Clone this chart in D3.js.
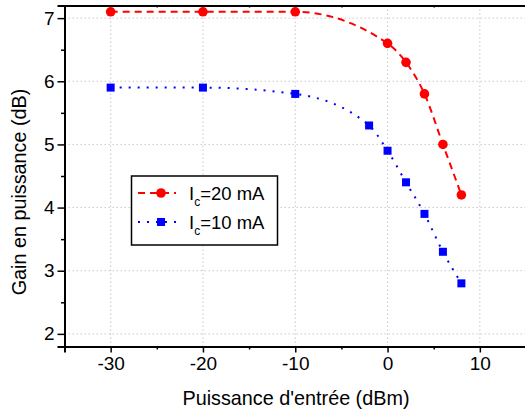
<!DOCTYPE html>
<html><head><meta charset="utf-8">
<script src="https://cdn.jsdelivr.net/npm/d3@7"></script>
<style>body{margin:0;background:#fff}svg{display:block;font-family:"Liberation Sans",Arial,sans-serif}</style>
</head><body>
<script>
const xTicks = [-30, -20, -10, 0, 10];
const yTicks = [2, 3, 4, 5, 6, 7];
const x20 = [-30, -20, -10, 0, 2, 4, 6, 8];
const y20 = [7.1, 7.1, 7.1, 6.6, 6.3, 5.8, 5.0, 4.2];
const x10 = [-30, -20, -10, -2, 0, 2, 4, 6, 8];
const y10 = [5.9, 5.9, 5.8, 5.3, 4.9, 4.4, 3.9, 3.3, 2.8];
const seriesLabels = ["=20 mA", "=10 mA"];
const xTitle = "Puissance d'entrée (dBm)";
const yTitle = "Gain en puissance (dB)";

const W = 525, H = 414;
const svg = d3.select("body").append("svg").attr("width", W).attr("height", H);
const x = d3.scaleLinear().domain([-35, 15]).range([64.5, 526]);
const y = d3.scaleLinear().domain([1.8, 7.2]).range([346.5, 5.5]);

// grid
const g = svg.append("g");
g.selectAll(".gx").data(xTicks).enter().append("line")
  .attr("x1", d => x(d)).attr("x2", d => x(d)).attr("y1", y(7.2)).attr("y2", y(1.8))
  .attr("stroke", "#c8c8c8").attr("stroke-width", 1).attr("stroke-dasharray", "1.5,2.5");
g.selectAll(".gy").data(yTicks).enter().append("line")
  .attr("x1", x(-35)).attr("x2", x(15)).attr("y1", d => y(d)).attr("y2", d => y(d))
  .attr("stroke", "#c8c8c8").attr("stroke-width", 1).attr("stroke-dasharray", "1.5,2.5");

// axes
const fontSize = 19;
const fmt = d => String(d);
const xAx = svg.append("g").attr("transform", `translate(0,${y(1.8)})`)
  .call(d3.axisBottom(x).tickValues(xTicks).tickSize(6).tickPadding(4).tickFormat(fmt));
const xMinor = svg.append("g").attr("transform", `translate(0,${y(1.8)})`)
  .call(d3.axisBottom(x).tickValues([-35,-25,-15,-5,5,15]).tickSize(3).tickFormat(""));
const yAx = svg.append("g").attr("transform", `translate(${x(-35)},0)`)
  .call(d3.axisLeft(y).tickValues(yTicks).tickSize(7).tickPadding(3).tickFormat(fmt));
const yMinor = svg.append("g").attr("transform", `translate(${x(-35)},0)`)
  .call(d3.axisLeft(y).tickValues([2.5,3.5,4.5,5.5,6.5]).tickSize(3.5).tickFormat(""));
const xTop = svg.append("g").attr("transform", `translate(0,${y(7.2)})`)
  .call(d3.axisTop(x).tickValues([-25,-15,-5,5]).tickSize(-2).tickFormat(""));
[xAx, xMinor, yAx, yMinor, xTop].forEach(a => {
  a.select(".domain").attr("stroke", "#000").attr("stroke-width", 2);
  a.selectAll(".tick line").attr("stroke", "#000").attr("stroke-width", 1.5);
  a.selectAll("text").attr("font-size", fontSize).attr("font-family", '"Liberation Sans",Arial,sans-serif').attr("fill", "#000");
});

// titles
svg.append("text").attr("x", 296).attr("y", 405).attr("text-anchor", "middle")
  .attr("font-size", 19.8).text(xTitle);
svg.append("text").attr("transform", "translate(26,192) rotate(-90)").attr("text-anchor", "middle")
  .attr("font-size", 19.8).text(yTitle);

// curves
svg.append("clipPath").attr("id", "c").append("rect")
  .attr("x", x(-35)).attr("y", y(7.2)).attr("width", x(15) - x(-35)).attr("height", y(1.8) - y(7.2));
const line = d3.line().x(d => x(d[0])).y(d => y(d[1])).curve(d3.curveMonotoneX);
const d20 = x20.map((v, i) => [v, y20[i]]);
const d10 = x10.map((v, i) => [v, y10[i]]);
const plot = svg.append("g").attr("clip-path", "url(#c)");
plot.append("path").attr("d", line(d20)).attr("fill", "none").attr("stroke", "#ff0000")
  .attr("stroke-width", 2).attr("stroke-dasharray", "7,5");
plot.append("path").attr("d", line(d10)).attr("fill", "none").attr("stroke", "#0000ff")
  .attr("stroke-width", 2).attr("stroke-dasharray", "2,7");
plot.selectAll(".c20").data(d20).enter().append("circle")
  .attr("cx", d => x(d[0])).attr("cy", d => y(d[1])).attr("r", 4.8).attr("fill", "#ff0000");
plot.selectAll(".s10").data(d10).enter().append("rect")
  .attr("x", d => x(d[0]) - 4).attr("y", d => y(d[1]) - 4).attr("width", 8).attr("height", 8).attr("fill", "#0000ff");

// legend
const lg = svg.append("g");
lg.append("rect").attr("x", 131.5).attr("y", 176).attr("width", 146).attr("height", 69)
  .attr("fill", "#fff").attr("stroke", "#000").attr("stroke-width", 1.5);
const rows = [{c: "#ff0000", dash: "7,5", t: seriesLabels[0], yy: 193, m: "circle"},
              {c: "#0000ff", dash: "2,7", t: seriesLabels[1], yy: 222, m: "rect"}];
rows.forEach(r => {
  lg.append("line").attr("x1", 138).attr("x2", 176).attr("y1", r.yy).attr("y2", r.yy)
    .attr("stroke", r.c).attr("stroke-width", 2).attr("stroke-dasharray", r.dash);
  if (r.m === "circle") lg.append("circle").attr("cx", 161).attr("cy", r.yy).attr("r", 4.8).attr("fill", r.c);
  else lg.append("rect").attr("x", 157).attr("y", r.yy - 4).attr("width", 8).attr("height", 8).attr("fill", r.c);
  const t = lg.append("text").attr("x", 189).attr("y", r.yy + 7).attr("font-size", 18.5);
  t.append("tspan").text("I");
  t.append("tspan").attr("font-size", 12).attr("dy", 6).text("c");
  t.append("tspan").attr("dy", -6).text(r.t);
});
</script>
</body></html>
